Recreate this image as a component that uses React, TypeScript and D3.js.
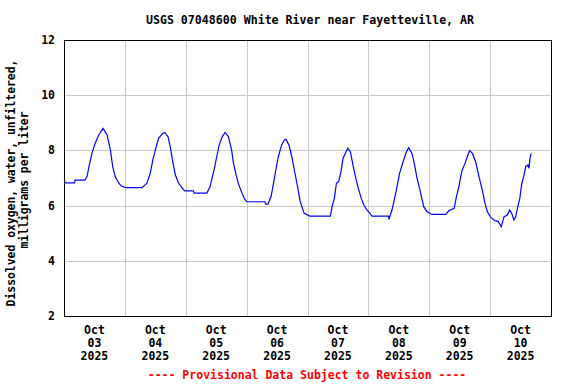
import React from "react";
import * as d3 from "d3";

const title = "USGS 07048600 White River near Fayetteville, AR";
const yLabelLines = ["Dissolved oxygen, water, unfiltered,", "milligrams per liter"];
const footer = "---- Provisional Data Subject to Revision ----";
const yTicks = [2, 4, 6, 8, 10, 12];
const dayLabels = ["03", "04", "05", "06", "07", "08", "09", "10"];
const monthLabel = "Oct";
const yearLabel = "2025";

// hours since 2025-10-03 00:00
const hours = [
  0, 0.8, 4.2, 4.3, 8.2, 9.1, 9.7, 11.0, 12.3, 13.7, 15.4, 17.0, 18.3, 19.2, 20.2, 21.6, 22.6,
  24.2, 30.8, 31.1, 32.7, 34.0, 35.0, 36.0, 37.3, 38.6, 39.7, 41.0, 41.9, 43.0, 43.9, 45.2, 46.5, 47.6,
  51.0, 51.3, 56.3, 57.6, 58.2, 59.3, 60.2, 61.2, 62.4, 63.5, 64.8, 66.1, 66.7, 67.7, 68.7, 70.1, 71.1, 72.0,
  79.2, 79.6, 80.4, 81.6, 82.5, 83.5, 84.5, 85.8, 86.9, 87.5, 88.7, 89.8, 90.8, 92.1, 93.0, 94.0, 94.7,
  96.9, 105.0, 105.7, 106.6, 107.4, 108.3, 109.2, 110.0, 110.9, 111.9, 112.9, 114.2, 115.2, 116.2, 117.2, 118.2, 119.5, 120.8,
  121.4, 128.0, 128.1, 128.5, 129.3, 130.2, 131.3, 132.3, 133.7, 135.0, 135.9, 137.2, 138.1, 139.2, 140.5, 141.8, 143.1, 145.1,
  150.5, 151.8, 153.8, 154.7, 155.7, 156.4, 157.0, 158.1, 159.0, 159.9, 161.0, 162.3, 163.6, 164.9, 166.0, 166.9, 168.2, 169.5,
  171.2, 172.4, 173.5, 174.8, 175.7, 176.5, 177.4, 178.1, 178.7, 179.7, 180.5, 181.4, 182.0, 182.9, 183.3, 183.7, 184.2,
];
const values = [
  6.89, 6.82, 6.82, 6.92, 6.92, 7.05, 7.35, 7.89, 8.26, 8.56, 8.8, 8.56, 8.01, 7.41, 7.05, 6.81, 6.71,
  6.65, 6.65, 6.68, 6.81, 7.17, 7.65, 8.01, 8.44, 8.59, 8.65, 8.5, 8.13, 7.53, 7.11, 6.81, 6.65, 6.53,
  6.53, 6.45, 6.45, 6.69, 6.93, 7.35, 7.77, 8.2, 8.5, 8.65, 8.5, 8.01, 7.59, 7.17, 6.81, 6.47, 6.26, 6.14,
  6.14, 6.05, 6.05, 6.32, 6.75, 7.29, 7.77, 8.2, 8.38, 8.4, 8.2, 7.77, 7.29, 6.69, 6.2, 5.9, 5.72,
  5.62, 5.62, 5.96, 6.26, 6.81, 6.87, 7.23, 7.71, 7.89, 8.08, 7.95, 7.35, 6.93, 6.57, 6.26, 6.02, 5.84, 5.7,
  5.62, 5.62, 5.5, 5.62, 5.84, 6.2, 6.69, 7.17, 7.59, 7.95, 8.1, 7.89, 7.53, 6.99, 6.5, 5.96, 5.78, 5.68,
  5.68, 5.82, 5.9, 6.32, 6.69, 7.05, 7.29, 7.53, 7.77, 7.99, 7.89, 7.59, 7.05, 6.57, 6.08, 5.78, 5.58, 5.48,
  5.42, 5.24, 5.6, 5.66, 5.84, 5.72, 5.48, 5.6, 5.87, 6.26, 6.81, 7.11, 7.41, 7.47, 7.35, 7.71, 7.89,
];

const W = 576;
const H = 384;
const left = 64;
const right = 551;
const top = 40;
const bottom = 316;
const font = "'DejaVu Sans Mono', monospace";

export default function App() {
  const start = new Date(Date.UTC(2025, 9, 3));
  const end = new Date(Date.UTC(2025, 9, 11));
  const x = d3.scaleUtc().domain([start, end]).range([left, right]);
  const y = d3.scaleLinear().domain([2, 12]).range([bottom, top]);
  const toDate = (h: number) => new Date(start.getTime() + h * 3600 * 1000);
  const data = hours.map((h, i) => ({ t: toDate(h), v: values[i] }));
  const line = d3
    .line<{ t: Date; v: number }>()
    .x((d) => x(d.t))
    .y((d) => y(d.v));
  const midnights = d3.utcDay.range(new Date(Date.UTC(2025, 9, 4)), end);
  const noons = dayLabels.map((_, i) => new Date(start.getTime() + (i * 24 + 12) * 3600 * 1000));

  return (
    <svg width={W} height={H} style={{ position: "absolute", left: 0, top: 0, background: "#fff" }}>
      <rect x={0} y={0} width={W} height={H} fill="#fff" />
      <g shapeRendering="crispEdges">
        {midnights.map((d, i) => (
          <line key={"v" + i} x1={Math.round(x(d)) + 0.5} x2={Math.round(x(d)) + 0.5} y1={top} y2={bottom} stroke="#c8c8c8" />
        ))}
        {yTicks.slice(1, -1).map((t) => (
          <line key={"h" + t} x1={left} x2={right} y1={Math.round(y(t)) + 0.5} y2={Math.round(y(t)) + 0.5} stroke="#c8c8c8" />
        ))}
      </g>
      <path d={line(data) || ""} fill="none" stroke="#0000ff" strokeWidth={1.2} />
      <rect x={left + 0.5} y={top + 0.5} width={right - left} height={bottom - top} fill="none" stroke="#000" strokeWidth={1.5} shapeRendering="crispEdges" />
      <text x={310} y={24} textAnchor="middle" fontFamily={font} fontWeight="bold" fontSize={11.6} fill="#000">
        {title}
      </text>
      {yTicks.map((t) => (
        <text key={"yt" + t} x={55} y={y(t) + 4} textAnchor="end" fontFamily={font} fontWeight="bold" fontSize={11.5} fill="#000">
          {t}
        </text>
      ))}
      {noons.map((d, i) => (
        <g key={"xl" + i} fontFamily={font} fontWeight="bold" fontSize={11.5} fill="#000" textAnchor="middle">
          <text x={x(d)} y={334}>{monthLabel}</text>
          <text x={x(d)} y={347}>{dayLabels[i]}</text>
          <text x={x(d)} y={360}>{yearLabel}</text>
        </g>
      ))}
      <g fontFamily={font} fontWeight="bold" fontSize={11.4} fill="#000" textAnchor="middle">
        <text transform={`translate(15,183) rotate(-90)`}>{yLabelLines[0]}</text>
        <text transform={`translate(28,180) rotate(-90)`}>{yLabelLines[1]}</text>
      </g>
      <text x={307} y={379} textAnchor="middle" fontFamily={font} fontWeight="bold" fontSize={11.5} fill="#ff0000">
        {footer}
      </text>
    </svg>
  );
}
